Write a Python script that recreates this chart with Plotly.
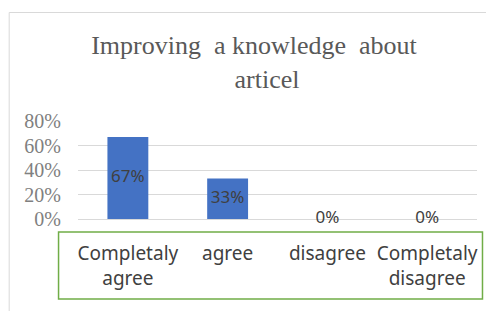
import plotly.graph_objects as go

categories = ["Completaly agree", "agree", "disagree", "Completaly disagree"]
tick_labels = ["Completaly<br>agree", "agree", "disagree", "Completaly<br>disagree"]
values = [0.67, 0.33, 0.0, 0.0]
value_labels = ["67%", "33%", "0%", "0%"]
y_ticks = [0, 0.2, 0.4, 0.6, 0.8]
y_tick_labels = ["0%", "20%", "40%", "60%", "80%"]

W, H = 494, 311
O = 8  # page body margin offset
# target screen coordinates of plot area
SX0, SX1, SY0, SY1 = 77.5, 477.5, 121, 219
L = SX0 - O
R = W - (SX1 - O)
T = SY0 - O
B = H - (SY1 - O)
pw, ph = SX1 - SX0, SY1 - SY0

def px_x(x):
    return (x - SX0) / pw

def px_y(y):
    return (SY1 - y) / ph

fig = go.Figure()
fig.add_trace(go.Bar(
    x=categories, y=values, width=0.41,
    marker=dict(color="#4472C4", line=dict(width=0)),
    hoverinfo="skip",
))
fig.add_trace(go.Scatter(
    x=categories, y=[v / 2 for v in values], text=value_labels,
    mode="text", textposition="middle center",
    textfont=dict(family="Noto Sans", size=17, color="#404040"),
    cliponaxis=False, hoverinfo="skip",
))

fig.update_layout(
    width=W, height=H,
    margin=dict(l=L, r=R, t=T, b=B, pad=0, autoexpand=False),
    paper_bgcolor="white", plot_bgcolor="white",
    showlegend=False,
    title=dict(
        text="Improving\u00a0\u00a0a knowledge\u00a0\u00a0about\u00a0\u00a0\u00a0\u00a0<br>articel",
        font=dict(family="Liberation Serif", size=26, color="#595959"),
        x=(267 - O) / W, xanchor="center", xref="container",
        y=1 - 46 / H, yanchor="top", yref="container",
        automargin=False,
    ),
    xaxis=dict(
        tickmode="array", tickvals=categories, ticktext=tick_labels,
        tickfont=dict(family="Noto Sans", size=19, color="#404040"),
        showgrid=False, showline=False, zeroline=False, ticks="",
        ticklabelstandoff=21, automargin=False,
    ),
    yaxis=dict(
        range=[0, 0.8], tickmode="array", tickvals=y_ticks, ticktext=y_tick_labels,
        tickfont=dict(family="Liberation Serif", size=20, color="#808080"),
        showgrid=True, gridcolor="#d9d9d9", gridwidth=1,
        zeroline=True, zerolinecolor="#d9d9d9", zerolinewidth=1,
        showline=False, ticks="", ticklabelstandoff=16, automargin=False,
    ),
    shapes=[
        dict(type="rect", xref="paper", yref="paper",
             x0=px_x(58), x1=px_x(483), y0=px_y(299), y1=px_y(232),
             line=dict(color="#70AD47", width=1.5), fillcolor="rgba(0,0,0,0)"),
        dict(type="rect", xref="paper", yref="paper",
             x0=px_x(8.5), x1=px_x(520), y0=px_y(330), y1=px_y(12.5),
             line=dict(color="#d9d9d9", width=1), fillcolor="rgba(0,0,0,0)"),
    ],
)

fig.write_html("out.html")
